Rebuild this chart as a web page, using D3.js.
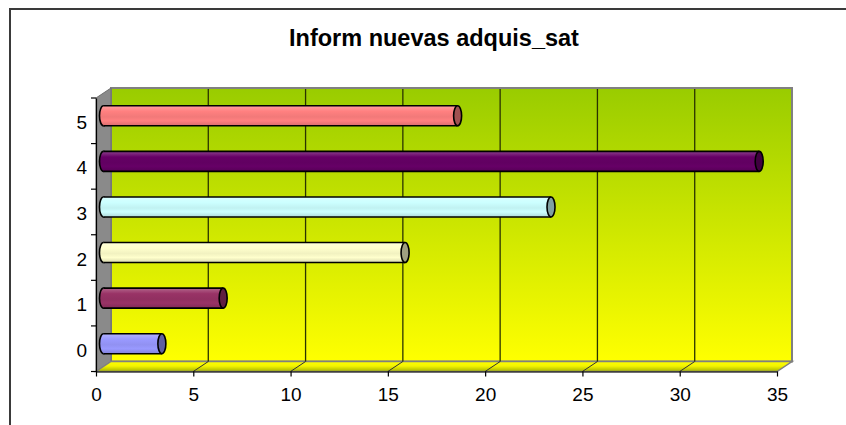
<!DOCTYPE html>
<html>
<head>
<meta charset="utf-8">
<script src="https://cdn.jsdelivr.net/npm/d3@7/dist/d3.min.js"></script>
<style>
  html, body { margin: 0; padding: 0; background: #fff; }
  svg { display: block; }
  text { font-family: "Liberation Sans", Arial, sans-serif; }
</style>
</head>
<body>
<svg id="chart" width="846" height="425"></svg>
<script>
// ---- data ----
const title = "Inform nuevas adquis_sat";
const categories = ["0", "1", "2", "3", "4", "5"];
const values = [3, 6.15, 15.5, 23, 33.7, 18.2];
const xTicks = [0, 5, 10, 15, 20, 25, 30, 35];
const barColors = ["#9999FF", "#993366", "#FFFFCC", "#CCFFFF", "#660066", "#FF8080"];

// ---- layout ----
const svg = d3.select("#chart");
const dx = 15, dy = -10;            // 3D depth offset
const x = d3.scaleLinear().domain([0, 35]).range([96, 777]);
const y = d3.scaleBand().domain(categories.slice().reverse()).range([98, 371.5]);
const bw = y.bandwidth();
const yTop = 98, yBot = 371.5;
const barH = 20;

const defs = svg.append("defs");
const wg = defs.append("linearGradient").attr("id", "wallGrad")
  .attr("x1", 0).attr("y1", 0).attr("x2", 0).attr("y2", 1);
wg.append("stop").attr("offset", "0%").attr("stop-color", "#99CC00");
wg.append("stop").attr("offset", "50%").attr("stop-color", "#CCE600");
wg.append("stop").attr("offset", "100%").attr("stop-color", "#FFFF00");
const fg = defs.append("linearGradient").attr("id", "floorGrad")
  .attr("x1", 0).attr("y1", 0).attr("x2", 0).attr("y2", 1);
fg.append("stop").attr("offset", "0%").attr("stop-color", "#FFFF00");
fg.append("stop").attr("offset", "45%").attr("stop-color", "#F4F400");
fg.append("stop").attr("offset", "100%").attr("stop-color", "#A6B400");

// chart border (extends beyond the visible area on right and bottom)
svg.append("line").attr("x1", 10).attr("x2", 846).attr("y1", 9).attr("y2", 9)
  .attr("stroke", "#3a3a3a").attr("stroke-width", 2);
svg.append("line").attr("x1", 10).attr("x2", 10).attr("y1", 8).attr("y2", 425)
  .attr("stroke", "#3a3a3a").attr("stroke-width", 2);

// title
svg.append("text").attr("x", 434).attr("y", 46).attr("text-anchor", "middle")
  .attr("font-size", "23.5px").attr("font-weight", "bold").attr("fill", "#000")
  .text(title);

// back wall
svg.append("rect")
  .attr("x", x(0) + dx).attr("y", yTop + dy)
  .attr("width", x(35) - x(0)).attr("height", yBot - yTop)
  .attr("fill", "url(#wallGrad)").attr("stroke", "#808080").attr("stroke-width", 2);

// left side wall
svg.append("polygon")
  .attr("points", [[x(0), yTop], [x(0) + dx, yTop + dy], [x(0) + dx, yBot + dy], [x(0), yBot]].map(p => p.join(",")).join(" "))
  .attr("fill", "#8a8a8a").attr("stroke", "#6f6f6f").attr("stroke-width", 1);

// floor
svg.append("polygon")
  .attr("points", [[x(0), yBot], [x(35), yBot], [x(35) + dx, yBot + dy], [x(0) + dx, yBot + dy]].map(p => p.join(",")).join(" "))
  .attr("fill", "url(#floorGrad)").attr("stroke", "#808080").attr("stroke-width", 1.5);

// gridlines
const inner = xTicks.filter(t => t > 0 && t < 35);
svg.append("g").selectAll("line").data(inner).join("line")
  .attr("x1", d => x(d) + dx).attr("x2", d => x(d) + dx)
  .attr("y1", yTop + dy + 1).attr("y2", yBot + dy)
  .attr("stroke", "#2a3300").attr("stroke-width", 1.3);
svg.append("g").selectAll("line").data(inner).join("line")
  .attr("x1", d => x(d)).attr("y1", yBot)
  .attr("x2", d => x(d) + dx).attr("y2", yBot + dy)
  .attr("stroke", "#333").attr("stroke-width", 1);

// bars (cylinders)
const bars = svg.append("g");
categories.forEach((c, i) => {
  const base = d3.color(barColors[i]);
  const gid = "barGrad" + i;
  const g = defs.append("linearGradient").attr("id", gid)
    .attr("x1", 0).attr("y1", 0).attr("x2", 0).attr("y2", 1);
  g.append("stop").attr("offset", "0%").attr("stop-color", d3.interpolateRgb(base, "#fff")(0.25));
  g.append("stop").attr("offset", "28%").attr("stop-color", base.formatHex());
  g.append("stop").attr("offset", "55%").attr("stop-color", base.darker(0.15).formatHex());
  g.append("stop").attr("offset", "75%").attr("stop-color", base.formatHex());
  g.append("stop").attr("offset", "100%").attr("stop-color", base.darker(0.45).formatHex());

  const cy = y(c) + bw / 2 + dy / 2;
  const x0 = x(0) + dx / 2;
  const x1 = x(values[i]) + dx / 2;
  const rx = 4, ry = barH / 2;
  const bg = bars.append("g");
  bg.append("ellipse").attr("cx", x0).attr("cy", cy).attr("rx", rx).attr("ry", ry)
    .attr("fill", `url(#${gid})`).attr("stroke", "#000").attr("stroke-width", 1.6);
  bg.append("rect").attr("x", x0).attr("y", cy - ry).attr("width", x1 - x0).attr("height", barH)
    .attr("fill", `url(#${gid})`);
  bg.append("line").attr("x1", x0).attr("x2", x1).attr("y1", cy - ry).attr("y2", cy - ry)
    .attr("stroke", "#000").attr("stroke-width", 1.6);
  bg.append("line").attr("x1", x0).attr("x2", x1).attr("y1", cy + ry).attr("y2", cy + ry)
    .attr("stroke", "#000").attr("stroke-width", 1.6);
  bg.append("ellipse").attr("cx", x1).attr("cy", cy).attr("rx", rx).attr("ry", ry)
    .attr("fill", base.darker(1.3).formatHex()).attr("stroke", "#000").attr("stroke-width", 1.6);
});

// x axis
const xAxis = svg.append("g").attr("transform", `translate(0,${yBot})`)
  .call(d3.axisBottom(x).tickValues(xTicks).tickSize(5).tickSizeOuter(0).tickPadding(11.5));
xAxis.select(".domain").attr("stroke", "#000").attr("stroke-width", 1.2);
xAxis.selectAll(".tick line").attr("stroke", "#000").attr("stroke-width", 1.2);
xAxis.selectAll(".tick text").attr("font-size", "19px").attr("fill", "#000")
  .attr("font-family", "Liberation Sans, Arial, sans-serif");

// y axis
const yAxis = svg.append("g").attr("transform", `translate(${x(0)},0)`)
  .call(d3.axisLeft(y).tickSize(0).tickSizeOuter(0).tickPadding(9));
yAxis.select(".domain").attr("stroke", "#000").attr("stroke-width", 1.2);
yAxis.selectAll(".tick text").attr("font-size", "19px").attr("fill", "#000")
  .attr("dy", "0.42em").attr("font-family", "Liberation Sans, Arial, sans-serif");
// category boundary ticks
const bounds = categories.map(c => y(c)).concat([yBot]);
svg.append("g").selectAll("line").data(bounds).join("line")
  .attr("x1", x(0) - 5).attr("x2", x(0)).attr("y1", d => d).attr("y2", d => d)
  .attr("stroke", "#000").attr("stroke-width", 1.2);
</script>
</body>
</html>
